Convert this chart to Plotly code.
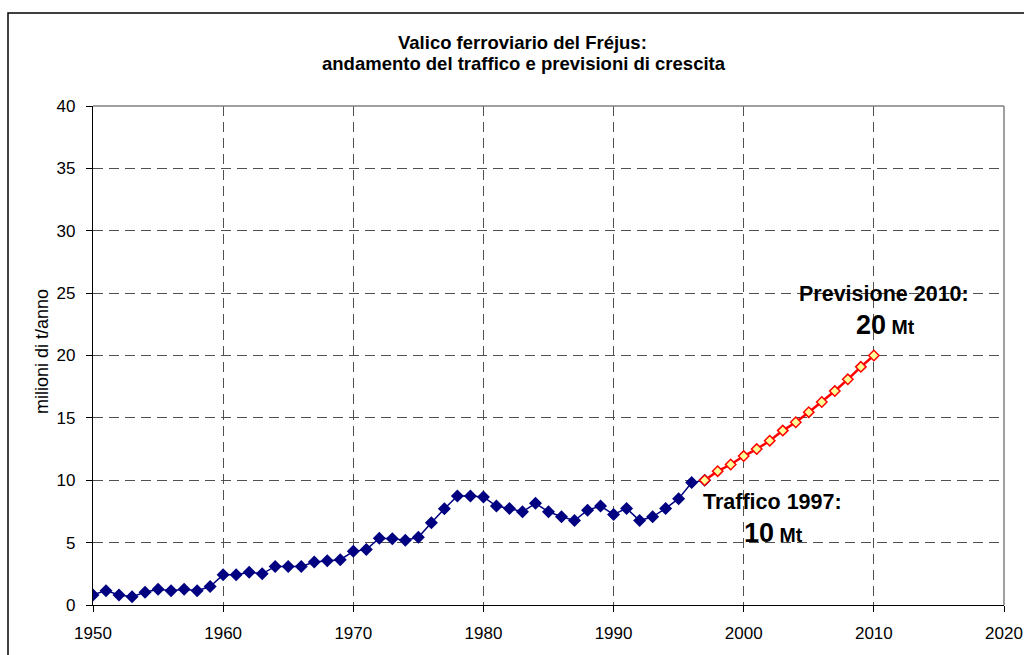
import plotly.graph_objects as go

# ---- data ----
years_hist = list(range(1950, 1998))
traffic_hist = [0.81, 1.15, 0.81, 0.67, 1.02, 1.27, 1.15, 1.27, 1.15, 1.48,
                2.42, 2.42, 2.63, 2.50, 3.09, 3.09, 3.09, 3.44, 3.55, 3.63,
                4.30, 4.44, 5.35, 5.32, 5.19, 5.43, 6.59, 7.72, 8.74, 8.74,
                8.66, 7.93, 7.74, 7.47, 8.15, 7.47, 7.07, 6.77, 7.60, 7.93,
                7.26, 7.74, 6.77, 7.07, 7.74, 8.52, 9.81, 10.0]
years_fc = list(range(1997, 2011))
traffic_fc = [10.0, 10.73, 11.26, 11.94, 12.50, 13.17, 13.98, 14.65, 15.46,
              16.27, 17.15, 18.09, 19.09, 20.0]
x_ticks = [1950, 1960, 1970, 1980, 1990, 2000, 2010, 2020]
y_ticks = [0, 5, 10, 15, 20, 25, 30, 35, 40]

title_lines = ["Valico ferroviario del Fréjus:",
               "andamento del traffico e previsioni di crescita"]
y_title = "milioni di t/anno"

FONT = "Arial, 'Liberation Sans', Helvetica, sans-serif"
W, H = 1024, 655
L, R, T, B = 93, 20, 106, 50
PW, PH = W - L - R, H - T - B


def px(xp):
    return (xp - L) / PW


def py(yp):
    return (H - B - yp) / PH


fig = go.Figure()
fig.add_trace(go.Scatter(
    x=years_hist, y=traffic_hist, mode="lines+markers",
    line=dict(color="#000080", width=1.5),
    marker=dict(symbol="diamond", size=10, color="#000080"),
    showlegend=False, hoverinfo="x+y"))
fig.add_trace(go.Scatter(
    x=years_fc, y=traffic_fc, mode="lines+markers",
    line=dict(color="#FF0000", width=2.5),
    marker=dict(symbol="diamond", size=8, color="#FFFF99",
                line=dict(color="#FF0000", width=1.5)),
    showlegend=False, hoverinfo="x+y"))

grid = dict(showgrid=True, gridcolor="#505050", gridwidth=1, griddash="10px,6px")
tickfont = dict(family=FONT, size=17, color="black")

fig.update_xaxes(range=[1950, 2020], tickvals=x_ticks, ticks="outside", ticklen=6,
                 tickcolor="black", showline=True, linecolor="black", linewidth=1.2,
                 zeroline=False, tickfont=tickfont, ticklabelstandoff=6,
                 ticklabeloverflow="allow", **grid)
fig.update_yaxes(range=[0, 40], tickvals=y_ticks, ticks="outside", ticklen=6,
                 tickcolor="black", showline=True, linecolor="black", linewidth=1.2,
                 zeroline=False, tickfont=tickfont, ticklabelstandoff=7,
                 ticklabeloverflow="allow", **grid)

shapes = [
    # top and right plot border (gray)
    dict(type="line", xref="paper", yref="paper", x0=0, x1=1, y0=1, y1=1,
         line=dict(color="#808080", width=1.5), layer="above"),
    dict(type="line", xref="paper", yref="paper", x0=1, x1=1, y0=0, y1=1,
         line=dict(color="#808080", width=1.5), layer="above"),
    # outer chart border
    dict(type="rect", xref="paper", yref="paper", x0=px(8), x1=px(1040),
         y0=py(670), y1=py(13), line=dict(color="black", width=1.5), layer="above"),
]

annotations = [
    dict(text="<b>%s</b>" % title_lines[0], xref="paper", yref="paper",
         x=px(522), y=py(43), showarrow=False, xanchor="center", yanchor="middle",
         font=dict(family=FONT, size=18.5, color="black")),
    dict(text="<b>%s</b>" % title_lines[1], xref="paper", yref="paper",
         x=px(524), y=py(64), showarrow=False, xanchor="center", yanchor="middle",
         font=dict(family=FONT, size=18.5, color="black")),
    dict(text=y_title, xref="paper", yref="paper", x=px(42), y=py(352),
         textangle=-90, showarrow=False, xanchor="center", yanchor="middle",
         font=dict(family=FONT, size=18, color="black")),
    dict(text="<b>Previsione 2010:</b>", xref="paper", yref="paper",
         x=px(884), y=py(294), showarrow=False, xanchor="center", yanchor="middle",
         font=dict(family=FONT, size=21.5, color="black")),
    dict(text="<b><span style='font-size:27px'>20</span> Mt</b>", xref="paper", yref="paper",
         x=px(885), y=py(325), showarrow=False, xanchor="center", yanchor="middle",
         font=dict(family=FONT, size=19.5, color="black")),
    dict(text="<b>Traffico 1997:</b>", xref="paper", yref="paper",
         x=px(772), y=py(502), showarrow=False, xanchor="center", yanchor="middle",
         font=dict(family=FONT, size=21.5, color="black")),
    dict(text="<b><span style='font-size:27px'>10</span> Mt</b>", xref="paper", yref="paper",
         x=px(773), y=py(533), showarrow=False, xanchor="center", yanchor="middle",
         font=dict(family=FONT, size=19.5, color="black")),
]

fig.update_layout(
    width=W, height=H,
    margin=dict(l=L, r=R, t=T, b=B, autoexpand=False),
    paper_bgcolor="white", plot_bgcolor="white",
    font=dict(family=FONT, color="black"),
    shapes=shapes, annotations=annotations,
    showlegend=False,
)

fig.write_html("out.html", config={"displayModeBar": False})
